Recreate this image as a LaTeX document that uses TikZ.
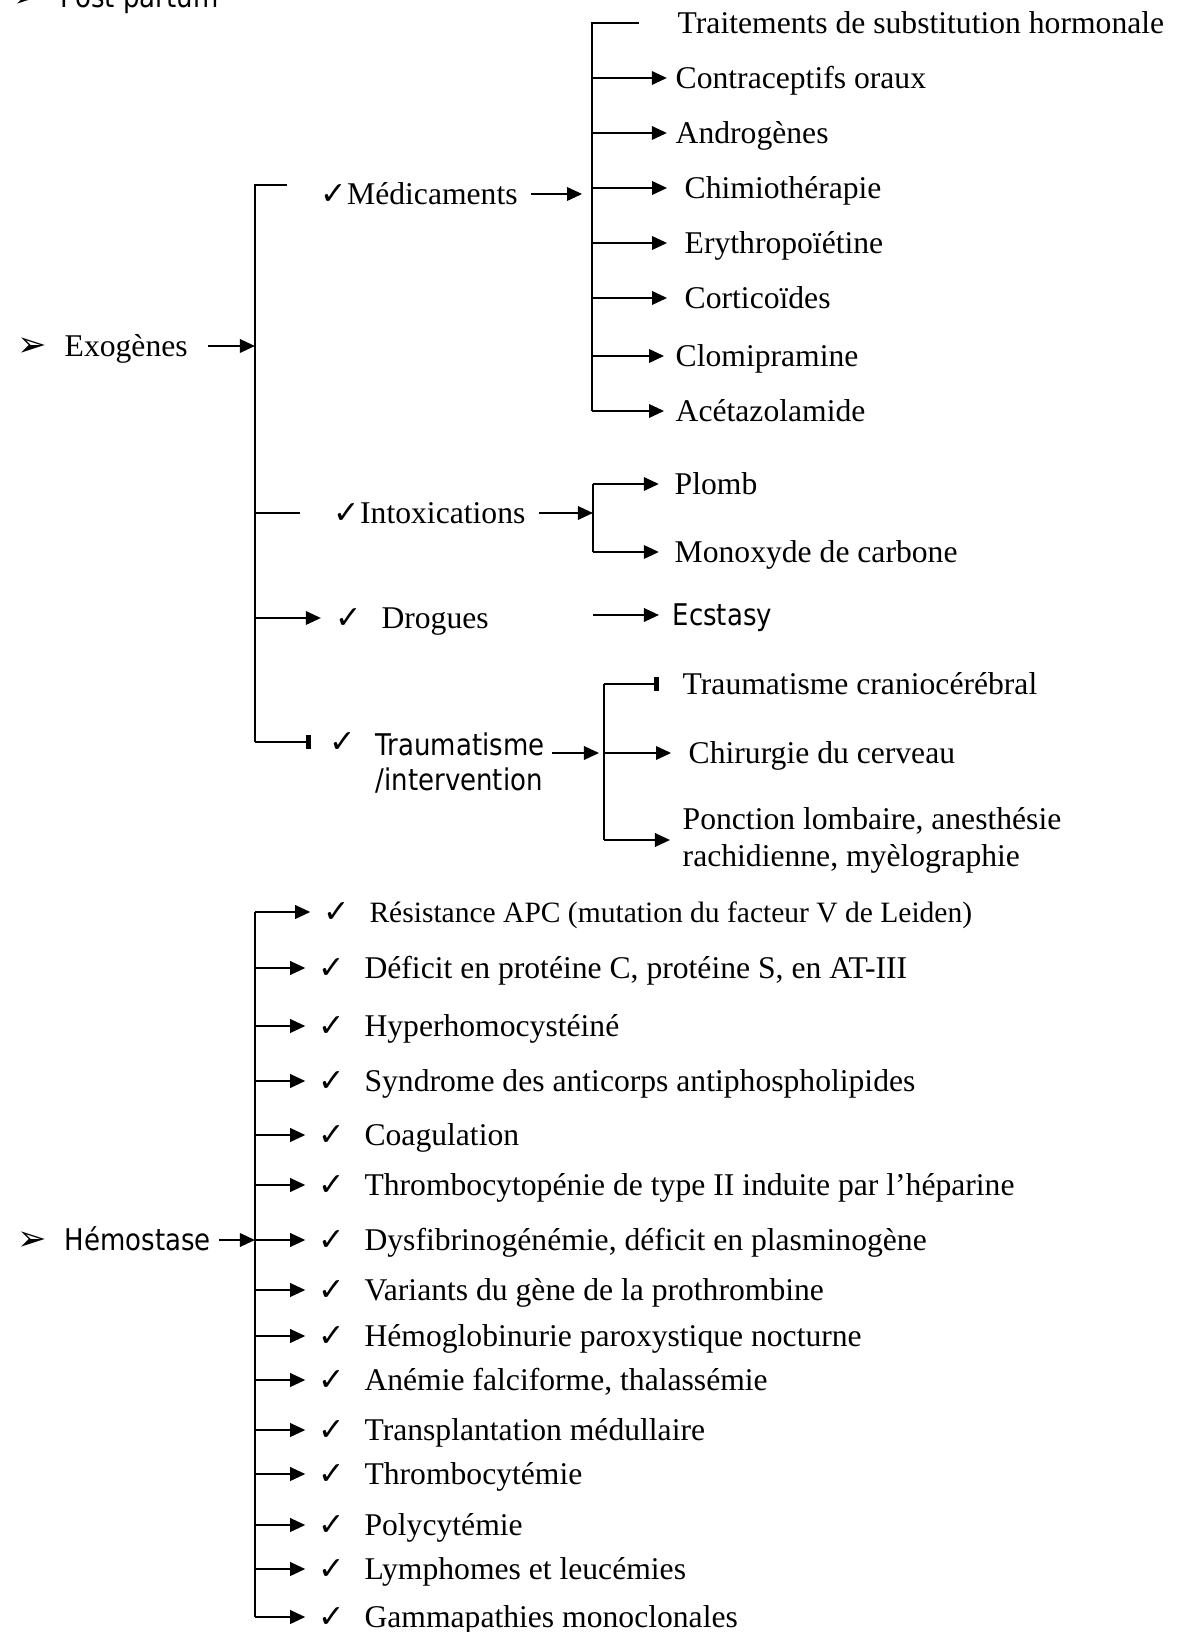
\documentclass[tikz,border=0pt]{standalone}
\usepackage{fontspec}
\setmainfont{Liberation Serif}
\newfontfamily\tahoma[FakeStretch=0.87]{DejaVu Sans}
\newfontfamily\dingfont{DejaVu Sans}
\usetikzlibrary{arrows.meta}
\newcommand\chk{{\dingfont\bfseries\fontsize{9}{9}\selectfont ✓}}
\newcommand\bul{{\dingfont\fontsize{10}{10}\selectfont ➢}}
\newcommand\fs{\fontsize{9}{10.5}\selectfont}
\newcommand\fss{\tahoma\fontsize{8.5}{10}\selectfont}

\begin{document}
\begin{tikzpicture}[
  ln/.style={line width=0.7pt},
  arr/.style={ln,-{Triangle[length=4.3pt,width=3.8pt]}},
  bararr/.style={ln,-{Rectangle[length=1.6pt,width=4.2pt]}},
  txt/.style={anchor=west,inner sep=0pt,font=\fs,text height=6pt,text depth=0pt},
  stxt/.style={txt,font=\fss},
  hitem/.style={txt,execute at begin node={\chk\hspace{5.5pt}}}
]
\useasboundingbox (0,0) rectangle (11.80,-16.32);

% columns of the brackets
\coordinate (e) at (2.55,-1.85);
\coordinate (estub) at (2.87,-1.85);
\coordinate (m) at (5.92,0);
\coordinate (i) at (5.93,0);
\coordinate (ecs) at (5.93,0);
\coordinate (t) at (6.04,0);
\coordinate (h) at (2.55,0);

\node[stxt] (post) at (0.13,0.03) {\bul\hspace{5pt}Post partum};

% Exogenes
\node[txt] (exo) at (0.17,-3.46) {\bul\hspace{5pt}Exogènes};
\node[txt] (med) at (3.20,-1.94) {\chk Médicaments};
\node[txt] (intox) at (3.33,-5.13) {\chk Intoxications};
\node[txt] (drog) at (3.35,-6.18) {\chk\hspace{5.5pt}Drogues};
\node[txt] (traumachk) at (3.29,-7.42) {\chk};
\node[anchor=north west,inner sep=0pt,align=left,font=\fss] (trauma) at (3.75,-7.32) {Traumatisme\\/intervention};

\draw[arr,shorten <=5.7pt] (exo.east) -- (exo.east -| e);
\draw[ln] (estub) -- (e) -- (e |- traumachk.west);
\draw[ln,shorten >=9.4pt] (e |- intox.west) -- (intox.west);
\draw[arr,shorten >=4pt] (e |- drog.west) -- (drog.west);
\draw[bararr,shorten >=5pt] (e |- traumachk.west) -- (traumachk.west);

% medicaments
\node[txt] (trt) at (6.77,-0.23) {Traitements de substitution hormonale};
\node[txt] (contra) at (6.75,-0.78) {Contraceptifs oraux};
\node[txt] (andro) at (6.75,-1.33) {Androgènes};
\node[txt] (chimio) at (6.84,-1.88) {Chimiothérapie};
\node[txt] (erythro) at (6.84,-2.43) {Erythropoïétine};
\node[txt] (cortico) at (6.84,-2.98) {Corticoïdes};
\node[txt] (clomi) at (6.75,-3.56) {Clomipramine};
\node[txt] (aceta) at (6.75,-4.11) {Acétazolamide};

\draw[arr,shorten <=3.7pt,shorten >=2.8pt] (med.east) -- (med.east -| m);
\draw[ln] ([xshift=-10.8pt]trt.west) -| (m |- aceta.west);
\draw[arr,shorten >=2.3pt] (m |- contra.west) -- (contra.west);
\draw[arr,shorten >=2.3pt] (m |- andro.west) -- (andro.west);
\draw[arr,shorten >=4.8pt] (m |- chimio.west) -- (chimio.west);
\draw[arr,shorten >=4.8pt] (m |- erythro.west) -- (erythro.west);
\draw[arr,shorten >=4.8pt] (m |- cortico.west) -- (cortico.west);
\draw[arr,shorten >=3.1pt] (m |- clomi.west) -- (clomi.west);
\draw[arr,shorten >=3.1pt] (m |- aceta.west) -- (aceta.west);

% intoxications
\node[txt] (plomb) at (6.74,-4.84) {Plomb};
\node[txt] (monox) at (6.74,-5.52) {Monoxyde de carbone};
\draw[arr,shorten <=3.7pt] (intox.east) -- (intox.east -| i);
\draw[ln] (i |- plomb.west) -- (i |- monox.west);
\draw[arr,shorten >=4.3pt] (i |- plomb.west) -- (plomb.west);
\draw[arr,shorten >=4.3pt] (i |- monox.west) -- (monox.west);

% drogues
\node[stxt] (ecst) at (6.72,-6.15) {Ecstasy};
\draw[arr,shorten >=3.7pt] (ecs |- ecst.west) -- (ecst.west);

% traumatisme
\node[txt] (cranio) at (6.82,-6.84) {Traumatisme craniocérébral};
\node[txt] (chir) at (6.88,-7.53) {Chirurgie du cerveau};
\node[anchor=west,inner sep=0pt,align=left,font=\fs] (ponct) at (6.82,-8.40) {Ponction lombaire, anesthésie\\rachidienne, myèlographie};
\draw[arr,shorten <=2pt,shorten >=1.4pt] (trauma.east |- chir.west) -- (t |- chir.west);
\draw[ln] (t |- cranio.west) -- (t |- ponct.west);
\draw[bararr,shorten >=6.5pt] (t |- cranio.west) -- (cranio.west);
\draw[arr,shorten >=4.8pt] (t |- chir.west) -- (chir.west);
\draw[arr,shorten >=3.4pt] (t |- ponct.west) -- (ponct.west);

% Hemostase
\node[stxt] (hemost) at (0.17,-12.40) {\bul\hspace{5pt}Hémostase};
\node[hitem,font=\fontsize{8.4}{10}\selectfont] (apc) at (3.23,-9.12) {Résistance APC (mutation du facteur V de Leiden)};
\node[hitem] (prot) at (3.18,-9.68) {Déficit en protéine C, protéine S, en AT-III};
\node[hitem] (hcy) at (3.18,-10.26) {Hyperhomocystéiné};
\node[hitem] (sapl) at (3.18,-10.81) {Syndrome des anticorps antiphospholipides};
\node[hitem] (coag) at (3.18,-11.35) {Coagulation};
\node[hitem] (tih) at (3.18,-11.85) {Thrombocytopénie de type II induite par l’héparine};
\node[hitem] (dysf) at (3.18,-12.40) {Dysfibrinogénémie, déficit en plasminogène};
\node[hitem] (varp) at (3.18,-12.90) {Variants du gène de la prothrombine};
\node[hitem] (hpn) at (3.18,-13.36) {Hémoglobinurie paroxystique nocturne};
\node[hitem] (drep) at (3.18,-13.80) {Anémie falciforme, thalassémie};
\node[hitem] (greffe) at (3.18,-14.30) {Transplantation médullaire};
\node[hitem] (thcyt) at (3.18,-14.74) {Thrombocytémie};
\node[hitem] (poly) at (3.18,-15.25) {Polycytémie};
\node[hitem] (lymph) at (3.18,-15.69) {Lymphomes et leucémies};
\node[hitem] (gamma) at (3.18,-16.17) {Gammapathies monoclonales};

\draw[arr,shorten <=2.3pt] (hemost.east) -- (hemost.east -| h);
\draw[ln] (h |- apc.west) -- (h |- gamma.west);
\draw[arr,shorten >=3.6pt] (h |- apc.west) -- (apc.west);
\draw[arr,shorten >=3.6pt] (h |- prot.west) -- (prot.west);
\draw[arr,shorten >=3.6pt] (h |- hcy.west) -- (hcy.west);
\draw[arr,shorten >=3.6pt] (h |- sapl.west) -- (sapl.west);
\draw[arr,shorten >=3.6pt] (h |- coag.west) -- (coag.west);
\draw[arr,shorten >=3.6pt] (h |- tih.west) -- (tih.west);
\draw[arr,shorten >=3.6pt] (h |- dysf.west) -- (dysf.west);
\draw[arr,shorten >=3.6pt] (h |- varp.west) -- (varp.west);
\draw[arr,shorten >=3.6pt] (h |- hpn.west) -- (hpn.west);
\draw[arr,shorten >=3.6pt] (h |- drep.west) -- (drep.west);
\draw[arr,shorten >=3.6pt] (h |- greffe.west) -- (greffe.west);
\draw[arr,shorten >=3.6pt] (h |- thcyt.west) -- (thcyt.west);
\draw[arr,shorten >=3.6pt] (h |- poly.west) -- (poly.west);
\draw[arr,shorten >=3.6pt] (h |- lymph.west) -- (lymph.west);
\draw[arr,shorten >=3.6pt] (h |- gamma.west) -- (gamma.west);
\end{tikzpicture}
\end{document}
